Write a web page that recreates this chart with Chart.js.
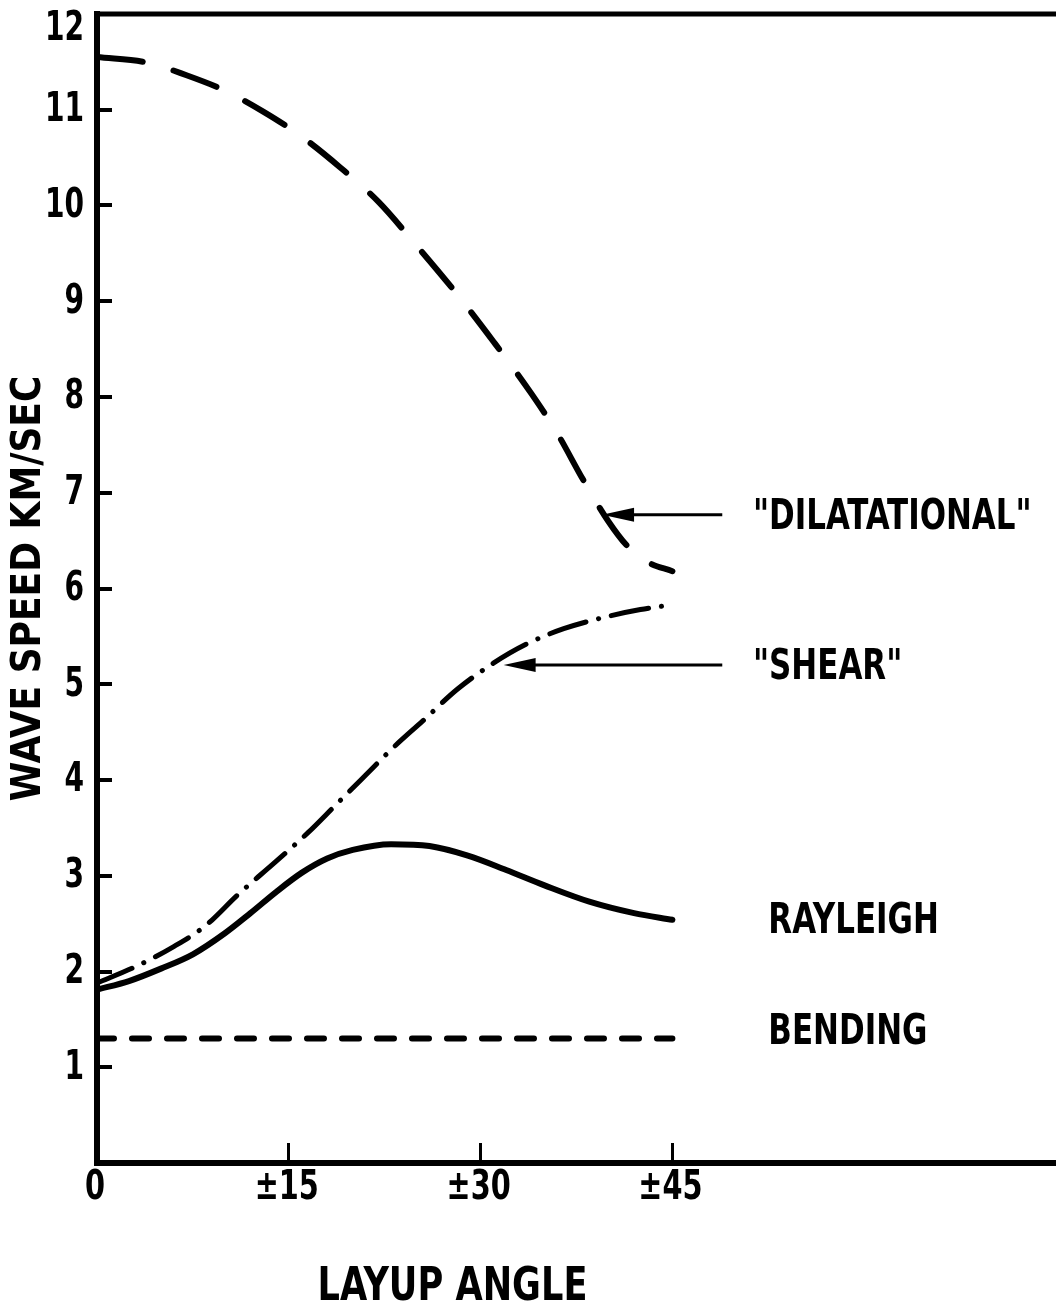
<!DOCTYPE html>
<html>
<head>
<meta charset="utf-8">
<script src="https://cdn.jsdelivr.net/npm/chart.js@4.4.1/dist/chart.umd.min.js"></script>
<style>
    body { margin: 0; background: #fff; }
    #wrap { width: 1056px; height: 1307px; }
</style>
</head>
<body>
<div id="wrap"><canvas id="waveChart"></canvas></div>
<script>
// Values: layup angle (deg) vs wave speed (km/sec)
const dilAngles = [0, 4, 7, 10, 13, 16, 19, 22, 25, 28, 31, 34, 36, 38, 40, 41.5, 43, 45];
const dilSpeeds = [11.55, 11.49, 11.36, 11.2, 10.98, 10.72, 10.40, 10.04, 9.58, 9.10, 8.58, 8.03, 7.62, 7.14, 6.70, 6.44, 6.28, 6.18];

const shearAngles = [0, 3, 6, 8.5, 11, 14, 16.5, 18.6, 21, 23.1, 25.5, 28.2, 31, 33.6, 36.5, 40, 42.5, 45];
const shearSpeeds = [1.88, 2.05, 2.26, 2.48, 2.80, 3.15, 3.45, 3.73, 4.05, 4.33, 4.62, 4.95, 5.22, 5.42, 5.58, 5.71, 5.78, 5.83];

const rayAngles = [0, 2.5, 5, 7.5, 10, 12, 14, 16, 18, 20, 23, 26, 29, 32, 35, 38.5, 42, 45];
const raySpeeds = [1.81, 1.90, 2.03, 2.18, 2.40, 2.61, 2.83, 3.03, 3.18, 3.27, 3.33, 3.31, 3.21, 3.06, 2.90, 2.73, 2.61, 2.54];

const bendAngles = [0, 45];
const bendSpeeds = [1.3, 1.3];

const xTickValues = [0, 15, 30, 45];
const xTickLabels = ['0', '±15', '±30', '±45'];
const yTickValues = [1, 2, 3, 4, 5, 6, 7, 8, 9, 10, 11, 12];

const FONT = '"Liberation Sans Narrow", "DejaVu Sans Condensed", "Arial Narrow", sans-serif';

function toPoints(xs, ys) {
    return xs.map((x, i) => ({ x: x, y: ys[i] }));
}

// curve names with arrows pointing at the curves
const curveLabels = [
    { text: '"DILATATIONAL"', x: 51.3, y: 6.74 },
    { text: '"SHEAR"', x: 51.3, y: 5.17 },
    { text: 'RAYLEIGH', x: 52.5, y: 2.52 },
    { text: 'BENDING', x: 52.5, y: 1.36 }
];
const arrows = [
    { from: 48.9, to: 39.5, y: 6.77 },
    { from: 48.9, to: 31.8, y: 5.2 }
];

// the lettering on the original is narrow, so squeeze text sideways
function narrowText(ctx, text, x, y, squeeze) {
    ctx.save();
    ctx.translate(x, y);
    ctx.scale(squeeze, 1);
    ctx.fillText(text, 0, 0);
    ctx.restore();
}

const annotatePlugin = {
    id: 'annotate',
    afterDatasetsDraw(chart) {
        const ctx = chart.ctx;
        const xs = chart.scales.x, ys = chart.scales.y;
        const area = chart.chartArea;
        ctx.save();
        ctx.strokeStyle = '#000';
        ctx.fillStyle = '#000';

        // top frame line
        ctx.lineWidth = 5;
        ctx.beginPath();
        ctx.moveTo(area.left - 3, area.top);
        ctx.lineTo(area.right, area.top);
        ctx.stroke();

        arrows.forEach(a => {
            const x1 = xs.getPixelForValue(a.from);
            const x2 = xs.getPixelForValue(a.to);
            const py = ys.getPixelForValue(a.y);
            ctx.lineWidth = 3;
            ctx.beginPath();
            ctx.moveTo(x1, py);
            ctx.lineTo(x2 + 20, py);
            ctx.stroke();
            ctx.beginPath();
            ctx.moveTo(x2, py);
            ctx.lineTo(x2 + 32, py - 7);
            ctx.lineTo(x2 + 32, py + 7);
            ctx.closePath();
            ctx.fill();
        });

        ctx.textBaseline = 'middle';

        // tick labels (top one sits just under the frame line)
        ctx.font = 'bold 40px ' + FONT;
        ctx.textAlign = 'right';
        yTickValues.forEach(v => {
            const py = Math.max(ys.getPixelForValue(v) + 1, area.top + 16);
            narrowText(ctx, String(v), area.left - 13, py, 0.78);
        });
        ctx.textAlign = 'center';
        xTickValues.forEach((v, i) => {
            narrowText(ctx, xTickLabels[i], xs.getPixelForValue(v) - 2, area.bottom + 26, 0.8);
        });

        // curve names
        ctx.font = 'bold 43px ' + FONT;
        ctx.textAlign = 'left';
        curveLabels.forEach(l => {
            narrowText(ctx, l.text, xs.getPixelForValue(l.x), ys.getPixelForValue(l.y), 0.8);
        });

        // x axis title
        ctx.font = 'bold 46px ' + FONT;
        ctx.textAlign = 'center';
        narrowText(ctx, 'LAYUP ANGLE', xs.getPixelForValue(27.8), 1288, 0.85);
        ctx.restore();
    }
};

const ctx = document.getElementById('waveChart').getContext('2d');

new Chart(ctx, {
    type: 'line',
    data: {
        datasets: [
            {
                label: 'Dilatational',
                data: toPoints(dilAngles, dilSpeeds),
                borderColor: '#000',
                borderWidth: 6,
                borderDash: [46, 32],
                borderCapStyle: 'round',
                cubicInterpolationMode: 'monotone',
                pointRadius: 0
            },
            {
                label: 'Shear',
                data: toPoints(shearAngles, shearSpeeds),
                borderColor: '#000',
                borderWidth: 5,
                borderDash: [38, 13, 0.1, 13],
                borderCapStyle: 'round',
                cubicInterpolationMode: 'monotone',
                pointRadius: 0
            },
            {
                label: 'Rayleigh',
                data: toPoints(rayAngles, raySpeeds),
                borderColor: '#000',
                borderWidth: 6,
                borderCapStyle: 'round',
                cubicInterpolationMode: 'monotone',
                pointRadius: 0
            },
            {
                label: 'Bending',
                data: toPoints(bendAngles, bendSpeeds),
                borderColor: '#000',
                borderWidth: 6,
                borderDash: [17, 18],
                borderCapStyle: 'round',
                pointRadius: 0
            }
        ]
    },
    options: {
        responsive: true,
        maintainAspectRatio: false,
        animation: false,
        layout: {
            padding: { top: 14, right: 0, bottom: 0, left: 0 }
        },
        plugins: {
            legend: { display: false },
            tooltip: { enabled: false }
        },
        scales: {
            x: {
                type: 'linear',
                min: 0,
                max: 75,
                afterBuildTicks: scale => {
                    scale.ticks = xTickValues.map(v => ({ value: v }));
                },
                afterFit: scale => {
                    scale.height = 144;
                    scale.paddingLeft = 0;
                    scale.paddingRight = 0;
                },
                border: { display: true, color: '#000', width: 6 },
                grid: {
                    drawOnChartArea: false,
                    drawTicks: true,
                    tickLength: -20,
                    color: '#000',
                    lineWidth: 3
                },
                ticks: { display: false, autoSkip: false }
            },
            y: {
                type: 'linear',
                min: 0,
                max: 12,
                afterBuildTicks: scale => {
                    scale.ticks = yTickValues.map(v => ({ value: v }));
                },
                afterFit: scale => {
                    scale.width = 97;
                    scale.paddingTop = 0;
                    scale.paddingBottom = 0;
                },
                border: { display: true, color: '#000', width: 6 },
                grid: {
                    drawOnChartArea: false,
                    drawTicks: true,
                    tickLength: -15,
                    color: '#000',
                    lineWidth: 4
                },
                ticks: { display: false },
                title: {
                    display: true,
                    text: 'WAVE SPEED KM/SEC',
                    color: '#000',
                    font: { family: FONT, size: 40, weight: 'bold', lineHeight: 1.2 },
                    padding: { top: 6, bottom: 0 }
                }
            }
        }
    },
    plugins: [annotatePlugin]
});
</script>
</body>
</html>
